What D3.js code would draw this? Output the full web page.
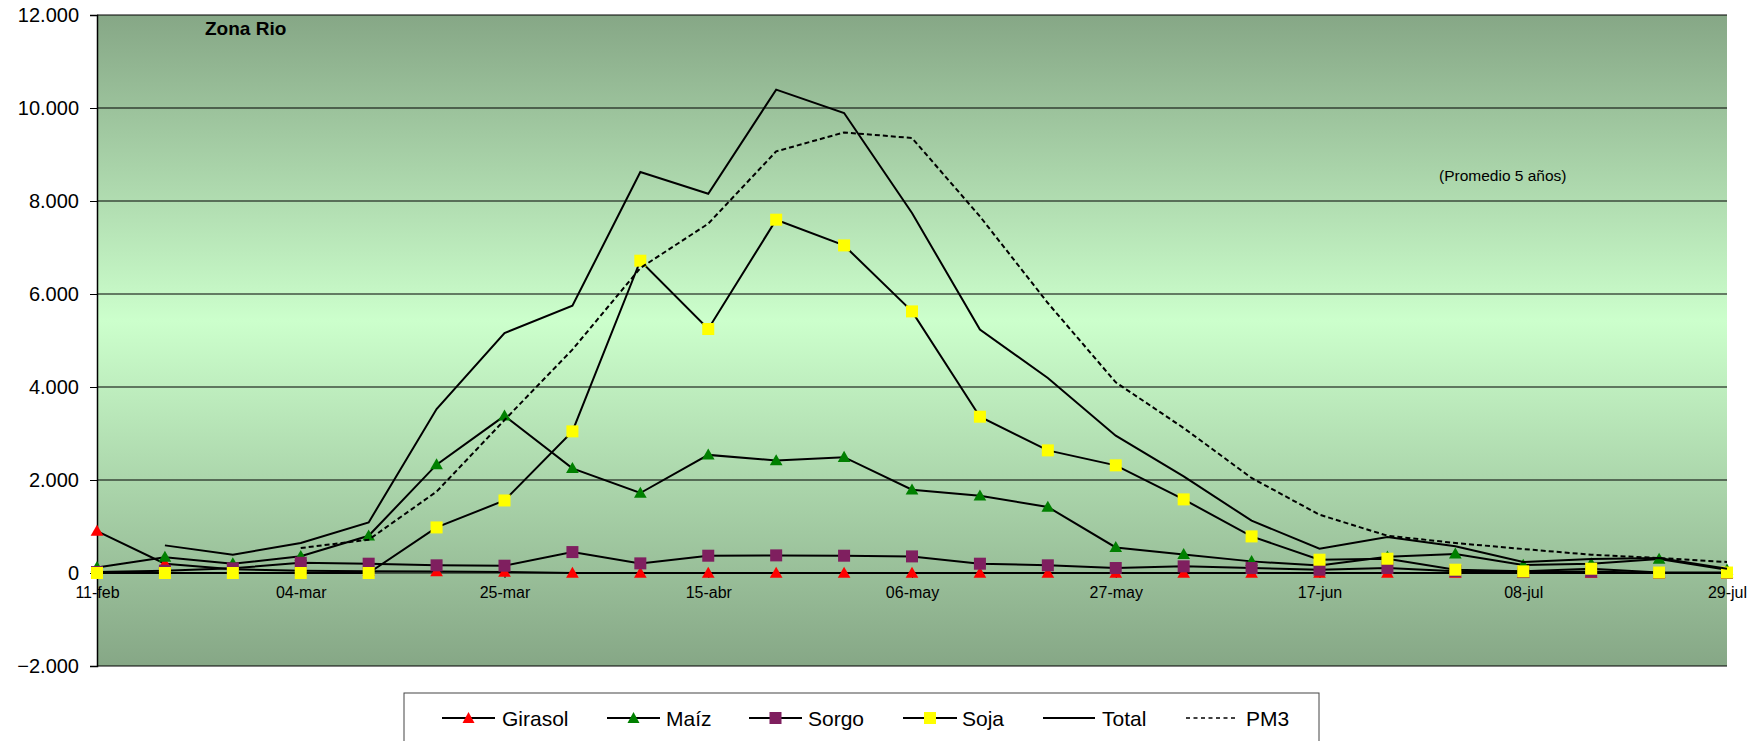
<!DOCTYPE html>
<html lang="es">
<head>
<meta charset="UTF-8">
<title>Zona Rio</title>
<style>
  body{margin:0;background:#fff;}
  svg{display:block;font-family:Arial,"Liberation Sans",sans-serif;}
</style>
</head>
<body>
<div id="main"></div>
<script src="https://d3js.org/d3.v7.min.js"></script>
<script>
// ---- datos ----
const categories=['11-feb','18-feb','25-feb','04-mar','11-mar','18-mar','25-mar','01-abr','08-abr','15-abr','22-abr','29-abr',
  '06-may','13-may','20-may','27-may','03-jun','10-jun','17-jun','24-jun','01-jul','08-jul','15-jul','22-jul','29-jul'];
const xLabels=['11-feb','04-mar','25-mar','15-abr','06-may','27-may','17-jun','08-jul','29-jul'];
const yTicks=[-2000,0,2000,4000,6000,8000,10000,12000];

const girasol=[900,200,80,50,40,30,20,0,0,0,0,0,0,0,0,0,0,0,0,0,0,0,0,0,0];
const maiz=[120,340,200,360,800,2330,3380,2250,1720,2540,2420,2490,1790,1660,1420,550,400,250,160,350,410,170,200,300,70];
const sorgo=[20,50,100,220,200,165,157,450,207,372,379,372,357,200,165,107,143,107,71,107,40,20,30,0,0];
const soja=[0,0,0,0,0,980,1560,3046,6716,5247,7598,7045,5626,3361,2637,2315,1583,787,286,307,71,35,92,10,10];
const total=[null,594,393,645,1088,3527,5161,5748,8623,8157,10394,9892,7742,5234,4193,2953,2078,1125,523,774,573,236,301,322,92];
const pm3=[null,null,null,537,716,1750,3290,4804,6559,7512,9067,9475,9355,7669,5806,4100,3118,2043,1253,802,645,516,393,322,236];

const series=[
  {name:'Girasol',values:girasol,marker:'tri',color:'#ff0000'},
  {name:'Maíz',values:maiz,marker:'tri',color:'#008000'},
  {name:'Sorgo',values:sorgo,marker:'sq',color:'#7f1f5f'},
  {name:'Soja',values:soja,marker:'sq',color:'#ffff00'},
  {name:'Total',values:total,marker:null,color:null},
  {name:'PM3',values:pm3,marker:null,color:null,dash:'5,3'}
];

// ---- lienzo ----
const width=1760,height=741;
const svg=d3.select('#main').append('svg')
  .attr('width',width).attr('height',height)
  .attr('viewBox',`0 0 ${width} ${height}`);

const plotL=97,plotR=1727,plotT=15,plotB=666;

const x=d3.scalePoint().domain(categories).range([plotL,plotR]);
const y=d3.scaleLinear().domain([-2000,12000]).range([plotB,plotT]);

const fmt=d3.formatLocale({decimal:',',thousands:'.',grouping:[3],currency:['','']}).format(',');

// fondo degradado
const grad=svg.append('defs').append('linearGradient')
  .attr('id','bg').attr('x1',0).attr('y1',0).attr('x2',0).attr('y2',1);
grad.append('stop').attr('offset','0%').attr('stop-color','#86a786');
grad.append('stop').attr('offset','47%').attr('stop-color','#ccffcc');
grad.append('stop').attr('offset','100%').attr('stop-color','#86a786');

svg.append('rect')
  .attr('x',plotL).attr('y',plotT)
  .attr('width',plotR-plotL).attr('height',plotB-plotT)
  .attr('fill','url(#bg)');

// lineas de division
svg.append('g').selectAll('line').data(yTicks).join('line')
  .attr('x1',plotL).attr('x2',plotR)
  .attr('y1',d=>y(d)).attr('y2',d=>y(d))
  .attr('stroke','#000').attr('stroke-width',1.1);

// eje y
const yAxis=svg.append('g')
  .attr('transform',`translate(${plotL},0)`)
  .call(d3.axisLeft(y).tickValues(yTicks).tickFormat(fmt).tickSize(7).tickPadding(11));
yAxis.select('.domain').attr('stroke','#000').attr('stroke-width',1.5);
yAxis.selectAll('text').style('font-size','20px').attr('fill','#000');

// eje x
const xAxis=svg.append('g')
  .attr('transform',`translate(0,${y(0)})`)
  .call(d3.axisBottom(x).tickValues(xLabels).tickSize(5).tickPadding(9));
xAxis.select('.domain').remove();
xAxis.selectAll('text').style('font-size','16px').attr('fill','#000');

// series
const line=d3.line()
  .defined(d=>d.v!=null)
  .x(d=>x(d.c)).y(d=>y(d.v));

const tri=d3.symbol().type(d3.symbolTriangle).size(70);

series.forEach(s=>{
  const pts=s.values.map((v,i)=>({c:categories[i],v:v}));
  svg.append('path')
    .datum(pts)
    .attr('d',line)
    .attr('fill','none')
    .attr('stroke','#000')
    .attr('stroke-width',2)
    .attr('stroke-dasharray',s.dash||null);
  if(s.marker==='tri'){
    svg.append('g').selectAll('path').data(pts.filter(d=>d.v!=null)).join('path')
      .attr('d',tri)
      .attr('transform',d=>`translate(${x(d.c)},${y(d.v)+1})`)
      .attr('fill',s.color);
  }else if(s.marker==='sq'){
    svg.append('g').selectAll('rect').data(pts.filter(d=>d.v!=null)).join('rect')
      .attr('x',d=>x(d.c)-6).attr('y',d=>y(d.v)-6)
      .attr('width',12).attr('height',12)
      .attr('fill',s.color);
  }
});

// textos
svg.append('text')
  .attr('x',205).attr('y',35)
  .style('font-size','19px').style('font-weight','bold')
  .text('Zona Rio');

svg.append('text')
  .attr('x',1439).attr('y',181)
  .style('font-size','15.5px')
  .text('(Promedio 5 años)');

// leyenda
const legend=svg.append('g');
legend.append('rect')
  .attr('x',404).attr('y',693).attr('width',915).attr('height',52)
  .attr('fill','#fff').attr('stroke','#444').attr('stroke-width',1);

const legendPos=[
  {x1:442,x2:495,tx:502},
  {x1:607,x2:660,tx:666},
  {x1:749,x2:802,tx:808},
  {x1:903,x2:957,tx:962},
  {x1:1043,x2:1095,tx:1102},
  {x1:1186,x2:1238,tx:1246}
];
const ly=718;
series.forEach((s,i)=>{
  const p=legendPos[i];
  legend.append('line')
    .attr('x1',p.x1).attr('x2',p.x2).attr('y1',ly).attr('y2',ly)
    .attr('stroke','#000').attr('stroke-width',s.dash?1.5:2)
    .attr('stroke-dasharray',s.dash?'4,3.5':null);
  const cx=(p.x1+p.x2)/2;
  if(s.marker==='tri'){
    legend.append('path')
      .attr('d',`M${cx},${ly-6}L${cx+6},${ly+5}L${cx-6},${ly+5}Z`)
      .attr('fill',s.color);
  }else if(s.marker==='sq'){
    legend.append('rect')
      .attr('x',cx-6).attr('y',ly-6).attr('width',12).attr('height',12)
      .attr('fill',s.color);
  }
  legend.append('text')
    .attr('x',p.tx).attr('y',725.5)
    .style('font-size','21px')
    .text(s.name);
});
</script>
</body>
</html>
